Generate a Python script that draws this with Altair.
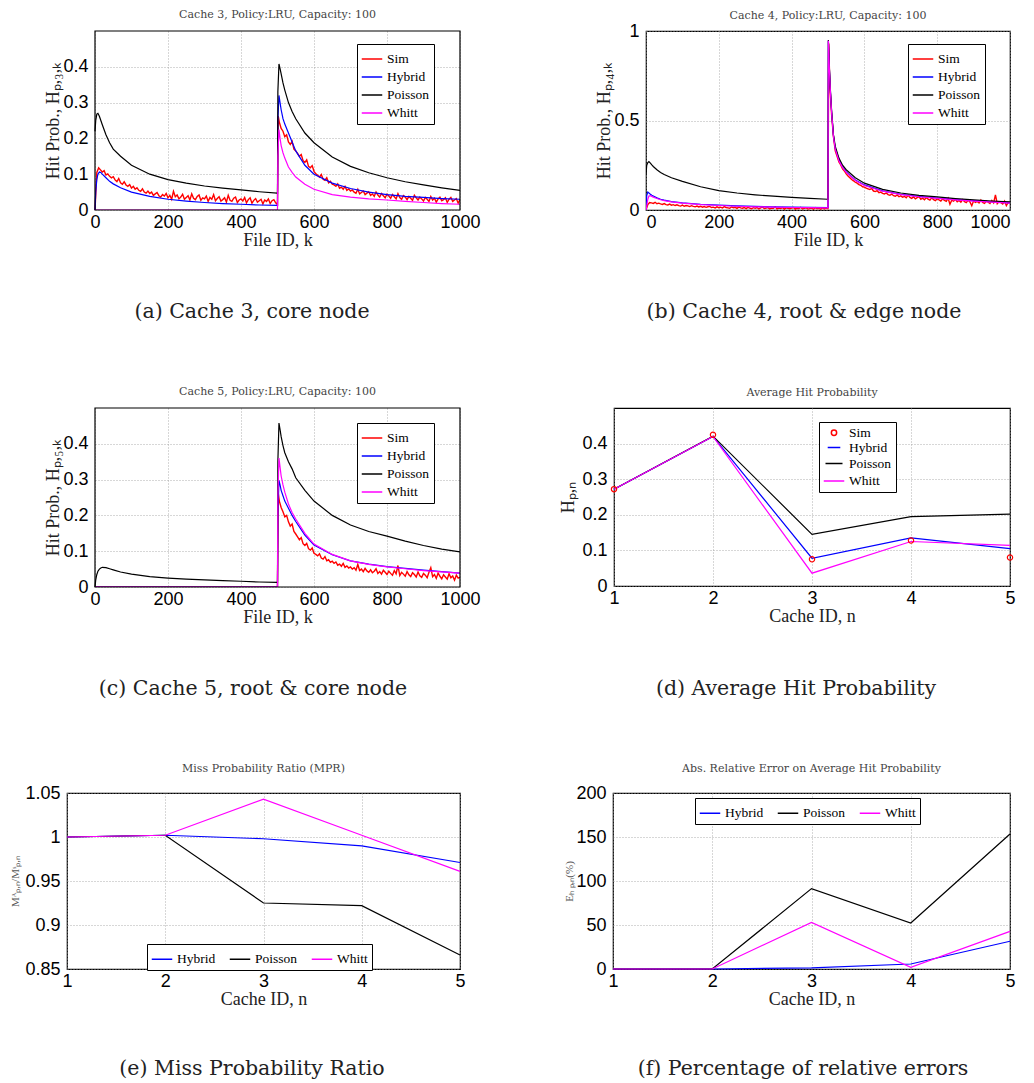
import altair as alt
import pandas as pd

SERIES = ["Sim", "Hybrid", "Poisson", "Whitt"]
SERIES_COLORS = ["#ff0000", "#0000ff", "#000000", "#ff00ff"]
MODELS = ["Hybrid", "Poisson", "Whitt"]
MODEL_COLORS = ["#0000ff", "#000000", "#ff00ff"]

# file-id positions
K_SMOOTH = [0, 2, 5, 8, 12, 16, 20, 30, 40, 50, 70, 100, 150, 200, 250, 300, 350, 400, 450, 499,
            500, 501, 504, 507, 510, 515, 520, 530, 540, 550, 575, 600, 650, 700, 750, 800, 850, 900, 950, 1000]
K_SIM_LO = list(range(0, 500, 5))
K_SIM_HI = [500, 502] + list(range(505, 1001, 5))
X_TICKS = [0, 200, 400, 600, 800, 1000]
Y_TICKS_HALF = [0, 0.1, 0.2, 0.3, 0.4]

# ---------------- Panel (a): cache 3 ----------------
a_sim_lo = [0.000, 0.105, 0.118, 0.112, 0.106, 0.110, 0.098, 0.101, 0.094, 0.090,
            0.093, 0.084, 0.079, 0.088, 0.076, 0.072, 0.079, 0.070, 0.066, 0.071,
            0.061, 0.066, 0.058, 0.062, 0.055, 0.052, 0.059, 0.050, 0.047, 0.053,
            0.046, 0.050, 0.041, 0.045, 0.049, 0.040, 0.036, 0.043, 0.039, 0.046,
            0.034, 0.041, 0.030, 0.052, 0.037, 0.042, 0.031, 0.036, 0.044, 0.030,
            0.035, 0.040, 0.028, 0.045, 0.033, 0.029, 0.038, 0.042, 0.027, 0.034,
            0.031, 0.039, 0.024, 0.035, 0.030, 0.043, 0.026, 0.032, 0.037, 0.025,
            0.029, 0.034, 0.022, 0.041, 0.027, 0.024, 0.033, 0.036, 0.021, 0.028,
            0.031, 0.025, 0.035, 0.020, 0.029, 0.034, 0.019, 0.027, 0.032, 0.022,
            0.026, 0.030, 0.017, 0.028, 0.024, 0.031, 0.018, 0.026, 0.029, 0.020]
a_sim_hi = [0.015, 0.262,
            0.245, 0.228, 0.220, 0.205, 0.210, 0.190, 0.183, 0.192, 0.170, 0.165,
            0.158, 0.150, 0.155, 0.138, 0.133, 0.140, 0.122, 0.118, 0.124, 0.108,
            0.101, 0.097, 0.092, 0.099, 0.086, 0.083, 0.090, 0.076, 0.080, 0.072,
            0.070, 0.066, 0.073, 0.061, 0.064, 0.058, 0.066, 0.055, 0.059, 0.053,
            0.056, 0.050, 0.047, 0.058, 0.045, 0.049, 0.053, 0.043, 0.047, 0.051,
            0.041, 0.045, 0.038, 0.050, 0.042, 0.036, 0.046, 0.040, 0.034, 0.044,
            0.039, 0.033, 0.043, 0.037, 0.031, 0.046, 0.035, 0.030, 0.040, 0.036,
            0.029, 0.038, 0.033, 0.027, 0.041, 0.034, 0.028, 0.036, 0.031, 0.025,
            0.035, 0.030, 0.024, 0.038, 0.028, 0.033, 0.022, 0.031, 0.036, 0.026,
            0.029, 0.034, 0.021, 0.030, 0.035, 0.024, 0.028, 0.032, 0.019, 0.030]
a_hybrid = [0.0, 0.05, 0.085, 0.1, 0.106, 0.105, 0.1, 0.09, 0.08, 0.073, 0.062, 0.05, 0.038, 0.03, 0.025, 0.021, 0.018, 0.016, 0.014, 0.013,
            0.013, 0.25, 0.32, 0.30, 0.28, 0.255, 0.24, 0.215, 0.19, 0.165, 0.125, 0.10, 0.075, 0.06, 0.05, 0.043, 0.038, 0.035, 0.032, 0.03]
a_poisson = [0.22, 0.25, 0.268, 0.27, 0.262, 0.25, 0.238, 0.21, 0.188, 0.17, 0.15, 0.125, 0.1, 0.085, 0.075, 0.067, 0.061, 0.056, 0.051, 0.047,
             0.047, 0.33, 0.408, 0.395, 0.38, 0.355, 0.335, 0.30, 0.275, 0.255, 0.215, 0.188, 0.148, 0.122, 0.104, 0.09, 0.079, 0.07, 0.062, 0.055]
a_whitt = [0.0, 0.0, 0.0, 0.0, 0.0, 0.0, 0.0, 0.0, 0.0, 0.0, 0.0, 0.0, 0.0, 0.0, 0.0, 0.0, 0.0, 0.0, 0.0, 0.0,
           0.0, 0.15, 0.225, 0.2, 0.18, 0.16, 0.145, 0.12, 0.105, 0.092, 0.072, 0.058, 0.043, 0.036, 0.031, 0.028, 0.024, 0.021, 0.018, 0.016]

# ---------------- Panel (b): cache 4 ----------------
b_sim_lo = [0.000, 0.030, 0.042, 0.040, 0.037, 0.043, 0.035, 0.038, 0.034, 0.031,
            0.036, 0.030, 0.028, 0.033, 0.027, 0.030, 0.025, 0.029, 0.024, 0.022,
            0.027, 0.021, 0.025, 0.023, 0.019, 0.024, 0.020, 0.018, 0.022, 0.017,
            0.021, 0.016, 0.019, 0.015, 0.018, 0.020, 0.014, 0.016, 0.012, 0.018,
            0.013, 0.016, 0.011, 0.019, 0.014, 0.012, 0.010, 0.017, 0.013, 0.015,
            0.009, 0.016, 0.012, 0.010, 0.014, 0.008, 0.015, 0.011, 0.007, 0.013,
            0.010, 0.014, 0.006, 0.012, 0.016, 0.008, 0.011, 0.013, 0.006, 0.010,
            0.009, 0.017, 0.006, 0.011, 0.008, 0.013, 0.005, 0.012, 0.009, 0.007,
            0.011, 0.014, 0.005, 0.010, 0.007, 0.015, 0.006, 0.009, 0.012, 0.005,
            0.008, 0.011, 0.004, 0.013, 0.007, 0.009, 0.005, 0.012, 0.006, 0.010]
b_sim_hi = [0.008, 0.930,
            0.700, 0.530, 0.410, 0.330, 0.300, 0.268, 0.252, 0.230, 0.218, 0.202,
            0.190, 0.180, 0.170, 0.163, 0.155, 0.150, 0.142, 0.138, 0.130, 0.128,
            0.122, 0.118, 0.114, 0.120, 0.106, 0.103, 0.108, 0.097, 0.100, 0.093,
            0.090, 0.095, 0.086, 0.082, 0.089, 0.080, 0.077, 0.084, 0.074, 0.079,
            0.071, 0.076, 0.068, 0.083, 0.070, 0.065, 0.074, 0.062, 0.069, 0.075,
            0.060, 0.066, 0.057, 0.070, 0.061, 0.055, 0.068, 0.058, 0.052, 0.063,
            0.056, 0.050, 0.062, 0.054, 0.048, 0.066, 0.032, 0.055, 0.049, 0.060,
            0.046, 0.053, 0.044, 0.058, 0.047, 0.041, 0.055, 0.045, 0.024, 0.051,
            0.043, 0.048, 0.039, 0.056, 0.042, 0.037, 0.050, 0.044, 0.036, 0.053,
            0.040, 0.085, 0.035, 0.047, 0.041, 0.034, 0.050, 0.024, 0.043, 0.038]
b_hybrid = [0.0, 0.08, 0.1, 0.095, 0.088, 0.082, 0.078, 0.068, 0.06, 0.055, 0.047, 0.04, 0.032, 0.027, 0.023, 0.02, 0.018, 0.016, 0.015, 0.014,
            0.014, 0.945, 0.78, 0.65, 0.545, 0.415, 0.345, 0.28, 0.24, 0.213, 0.168, 0.14, 0.107, 0.088, 0.076, 0.067, 0.059, 0.052, 0.046, 0.04]
b_poisson = [0.2, 0.25, 0.265, 0.27, 0.262, 0.252, 0.243, 0.225, 0.21, 0.198, 0.18, 0.16, 0.13, 0.108, 0.095, 0.085, 0.077, 0.07, 0.065, 0.06,
             0.06, 0.95, 0.785, 0.655, 0.55, 0.42, 0.355, 0.29, 0.25, 0.225, 0.18, 0.15, 0.115, 0.095, 0.082, 0.073, 0.064, 0.057, 0.05, 0.045]
b_whitt = [0.0, 0.02, 0.06, 0.078, 0.08, 0.076, 0.072, 0.064, 0.057, 0.052, 0.045, 0.038, 0.03, 0.025, 0.021, 0.018, 0.016, 0.014, 0.013, 0.012,
           0.012, 0.945, 0.775, 0.645, 0.54, 0.41, 0.34, 0.275, 0.237, 0.21, 0.165, 0.137, 0.105, 0.086, 0.074, 0.065, 0.057, 0.05, 0.044, 0.038]

# ---------------- Panel (c): cache 5 ----------------
c_sim_lo = [0.0] * 100
c_sim_hi = [0.000, 0.262,
            0.240, 0.222, 0.210, 0.196, 0.200, 0.182, 0.170, 0.176, 0.155, 0.148,
            0.140, 0.132, 0.138, 0.121, 0.116, 0.122, 0.107, 0.103, 0.109, 0.094,
            0.091, 0.087, 0.093, 0.081, 0.078, 0.085, 0.073, 0.076, 0.069, 0.072,
            0.066, 0.070, 0.061, 0.064, 0.058, 0.066, 0.055, 0.059, 0.053, 0.056,
            0.050, 0.054, 0.047, 0.063, 0.046, 0.050, 0.043, 0.052, 0.045, 0.041,
            0.048, 0.040, 0.044, 0.051, 0.038, 0.043, 0.036, 0.047, 0.041, 0.035,
            0.044, 0.038, 0.033, 0.046, 0.037, 0.060, 0.032, 0.041, 0.036, 0.030,
            0.043, 0.034, 0.029, 0.040, 0.035, 0.028, 0.042, 0.031, 0.027, 0.038,
            0.033, 0.026, 0.041, 0.054, 0.029, 0.035, 0.024, 0.039, 0.030, 0.023,
            0.034, 0.028, 0.022, 0.037, 0.026, 0.031, 0.019, 0.033, 0.025, 0.027]
c_hybrid = [0.0, 0.0, 0.0, 0.0, 0.0, 0.0, 0.0, 0.0, 0.0, 0.0, 0.0, 0.0, 0.0, 0.0, 0.0, 0.0, 0.0, 0.0, 0.0, 0.0,
            0.0, 0.2, 0.298, 0.285, 0.27, 0.255, 0.24, 0.22, 0.2, 0.183, 0.145, 0.117, 0.09, 0.073, 0.064, 0.057, 0.052, 0.047, 0.043, 0.039]
c_poisson = [0.0, 0.02, 0.035, 0.044, 0.05, 0.053, 0.055, 0.054, 0.051, 0.048, 0.042, 0.036, 0.029, 0.025, 0.022, 0.02, 0.018, 0.016, 0.014, 0.013,
             0.013, 0.35, 0.458, 0.44, 0.42, 0.395, 0.375, 0.35, 0.33, 0.305, 0.27, 0.24, 0.2, 0.173, 0.155, 0.142, 0.128, 0.116, 0.106, 0.098]
c_whitt = [0.0, 0.0, 0.0, 0.0, 0.0, 0.0, 0.0, 0.0, 0.0, 0.0, 0.0, 0.0, 0.0, 0.0, 0.0, 0.0, 0.0, 0.0, 0.0, 0.0,
           0.0, 0.25, 0.36, 0.335, 0.31, 0.285, 0.265, 0.232, 0.208, 0.19, 0.15, 0.12, 0.091, 0.073, 0.063, 0.056, 0.051, 0.046, 0.042, 0.039]

# ---------------- Panels (d)-(f): per-cache summaries ----------------
CACHE_IDS = [1, 2, 3, 4, 5]
d_sim = [0.272, 0.425, 0.075, 0.128, 0.080]
d_hybrid = [0.272, 0.420, 0.078, 0.135, 0.105]
d_poisson = [0.272, 0.421, 0.145, 0.195, 0.202]
d_whitt = [0.272, 0.420, 0.036, 0.125, 0.114]

e_hybrid = [1.000, 1.002, 0.998, 0.990, 0.971]
e_poisson = [1.000, 1.002, 0.925, 0.922, 0.866]
e_whitt = [1.000, 1.002, 1.043, 1.002, 0.961]

f_hybrid = [0.0, 0.0, 1.2, 5.7, 31.5]
f_poisson = [0.0, 0.0, 91.3, 52.3, 153.4]
f_whitt = [0.0, 0.0, 53.0, 2.0, 42.8]

SERIF = "Liberation Serif"
CAPTION_FONT = "DejaVu Serif"
TITLE_OFFSET = 10
FMT = ".4~g"
LEAD = 28  # blank strip left of the (a)/(c) frames, so that (e) can start further left


def frame(k, v, name):
    return pd.DataFrame({"k": k, "v": v, "series": name})


def legend(lx, ly, direction="vertical", columns=1):
    return alt.Legend(title=None, orient="none", legendX=lx, legendY=ly, direction=direction,
                      columns=columns, symbolType="stroke")


def panel_title(text, offset=TITLE_OFFSET, dx=0):
    return alt.TitleParams(text, offset=offset, frame="group", dx=dx)


def caption_layer(text, cx, cy):
    return alt.Chart(pd.DataFrame({"t": [text]})).mark_text(
        font=CAPTION_FONT, fontSize=20.5, color="#222", align="center", baseline="middle"
    ).encode(text="t:N", x=alt.value(cx), y=alt.value(cy))


def box_layer(x0, x1, h):
    # plot frame for panels whose view is wider than their data rectangle
    return alt.Chart(pd.DataFrame({"z": [0]})).mark_rect(
        fillOpacity=0, stroke="black", strokeWidth=1.2
    ).encode(x=alt.value(x0), x2=alt.value(x1), y=alt.value(0), y2=alt.value(h))


def left_guide(px):
    return alt.Chart(pd.DataFrame({"z": [0]})).mark_rule(strokeOpacity=0).encode(
        x=alt.value(px), y=alt.value(0), y2=alt.value(2))


def hit_panel(title, ytitle, caption, sim_lo, sim_hi, hyb, poi, whi, ymax, yticks,
              plot_w, height, lx, ly, cx, cy, lead=0, flush=False, title_offset=TITLE_OFFSET):
    width = plot_w + lead
    df = pd.concat([
        frame(K_SIM_LO + K_SIM_HI, sim_lo + sim_hi, "Sim"),
        frame(K_SMOOTH, hyb, "Hybrid"),
        frame(K_SMOOTH, poi, "Poisson"),
        frame(K_SMOOTH, whi, "Whitt"),
    ])
    base = alt.Chart(df).encode(
        x=alt.X("k:Q", scale=alt.Scale(domain=[0, 1000], nice=False, zero=False, range=[lead, width]),
                axis=alt.Axis(title="File ID, k", values=X_TICKS, format=FMT, titlePadding=0,
                              labelFlush=flush)),
        y=alt.Y("v:Q", scale=alt.Scale(domain=[0, ymax], nice=False),
                axis=alt.Axis(title=ytitle, values=yticks, format=FMT, titlePadding=0,
                              labelPadding=7 - lead)),
        color=alt.Color("series:N", scale=alt.Scale(domain=SERIES, range=SERIES_COLORS),
                        legend=legend(lx + lead, ly)),
    )
    layers = [base.transform_filter(alt.datum.series == s).mark_line(
        strokeWidth=1.4 if s == "Sim" else 1.2, clip=True) for s in SERIES]
    layers.append(caption_layer(caption, cx + lead, cy))
    props = dict(width=width, height=height, title=panel_title(title, title_offset, lead / 2))
    if lead:
        layers.append(box_layer(lead, width, height))
        props["view"] = alt.ViewBackground(stroke="transparent")
    return alt.layer(*layers).properties(**props)


panel_a = hit_panel("Cache 3, Policy:LRU, Capacity: 100", "Hit Prob., Hₚ,₃,ₖ", "(a) Cache 3, core node",
                    a_sim_lo, a_sim_hi, a_hybrid, a_poisson, a_whitt, 0.5, Y_TICKS_HALF,
                    365, 179, 262, 13, 157, 281, lead=LEAD)
panel_b = hit_panel("Cache 4, Policy:LRU, Capacity: 100", "Hit Prob., Hₚ,₄,ₖ", "(b) Cache 4, root & edge node",
                    b_sim_lo, b_sim_hi, b_hybrid, b_poisson, b_whitt, 1.0, [0, 0.5, 1],
                    364, 179, 262, 13, 158, 281, flush=True, title_offset=1)
panel_c = hit_panel("Cache 5, Policy:LRU, Capacity: 100", "Hit Prob., Hₚ,₅,ₖ", "(c) Cache 5, root & core node",
                    c_sim_lo, c_sim_hi, c_hybrid, c_poisson, c_whitt, 0.5, Y_TICKS_HALF,
                    365, 179, 262, 15, 158, 281, lead=LEAD)

# (d) average hit probability
d_df = pd.concat([frame(CACHE_IDS, d_sim, "Sim"), frame(CACHE_IDS, d_hybrid, "Hybrid"),
                  frame(CACHE_IDS, d_poisson, "Poisson"), frame(CACHE_IDS, d_whitt, "Whitt")])
x_cache = alt.X("k:Q", scale=alt.Scale(domain=[1, 5], nice=False, zero=False),
                axis=alt.Axis(title="Cache ID, n", values=CACHE_IDS, format=FMT, titlePadding=0))
d_legend = alt.Legend(title=None, orient="none", legendX=205, legendY=14)
d_color = alt.Color("series:N", scale=alt.Scale(domain=SERIES, range=SERIES_COLORS), legend=d_legend)
d_y = alt.Y("v:Q", scale=alt.Scale(domain=[0, 0.5], nice=False),
            axis=alt.Axis(title="Hₚ,ₙ", values=Y_TICKS_HALF, format=FMT, titlePadding=4))
d_base = alt.Chart(d_df).encode(x=x_cache, y=d_y, color=d_color)
d_layers = [d_base.transform_filter(alt.datum.series == s).mark_line(strokeWidth=1.2) for s in MODELS]
d_points = d_base.transform_filter(alt.datum.series == "Sim").mark_point(
    filled=False, strokeWidth=1.2, opacity=1).encode(
    shape=alt.Shape("series:N", scale=alt.Scale(domain=SERIES, range=["circle", "stroke", "stroke", "stroke"]),
                    legend=d_legend),
    size=alt.Size("series:N", scale=alt.Scale(domain=SERIES, range=[28, 420, 420, 420]), legend=d_legend),
)
panel_d = alt.layer(*d_layers, d_points, caption_layer("(d) Average Hit Probability", 182, 281)).properties(
    width=396, height=178, title=panel_title("Average Hit Probability"))

# (e) miss probability ratio
e_df = pd.concat([frame(CACHE_IDS, e_hybrid, "Hybrid"), frame(CACHE_IDS, e_poisson, "Poisson"),
                  frame(CACHE_IDS, e_whitt, "Whitt")])
e_base = alt.Chart(e_df).encode(
    x=x_cache,
    y=alt.Y("v:Q", scale=alt.Scale(domain=[0.85, 1.05], nice=False, zero=False),
            axis=alt.Axis(title="Mᴬₚ,ₙ/Mˢₚ,ₙ", values=[0.85, 0.9, 0.95, 1.0, 1.05], format=FMT,
                          titleFontSize=11, titleColor="#555", titlePadding=4)),
    color=alt.Color("series:N", scale=alt.Scale(domain=MODELS, range=MODEL_COLORS),
                    legend=legend(80, 151, "horizontal", 3)),
)
e_layers = [e_base.transform_filter(alt.datum.series == s).mark_line(strokeWidth=1.2) for s in MODELS]
panel_e = alt.layer(*e_layers, caption_layer("(e) Miss Probability Ratio", 185, 276),
                    left_guide(-58)).properties(
    width=393, height=176, title=panel_title("Miss Probability Ratio (MPR)"))

# (f) relative errors
f_df = pd.concat([frame(CACHE_IDS, f_hybrid, "Hybrid"), frame(CACHE_IDS, f_poisson, "Poisson"),
                  frame(CACHE_IDS, f_whitt, "Whitt")])
f_base = alt.Chart(f_df).encode(
    x=x_cache,
    y=alt.Y("v:Q", scale=alt.Scale(domain=[0, 200], nice=False),
            axis=alt.Axis(title="Eₕ ₚ,ₙ(%)", values=[0, 50, 100, 150, 200], format=FMT,
                          titleFontSize=11, titleColor="#555", titlePadding=1)),
    color=alt.Color("series:N", scale=alt.Scale(domain=MODELS, range=MODEL_COLORS),
                    legend=legend(82, 5, "horizontal", 3)),
)
f_layers = [f_base.transform_filter(alt.datum.series == s).mark_line(strokeWidth=1.2) for s in MODELS]
panel_f = alt.layer(*f_layers, caption_layer("(f) Percentage of relative errors", 190, 276)).properties(
    width=397, height=176, title=panel_title("Abs. Relative Error on Average Hit Probability"))


def indep(c):
    return c.resolve_scale(color="independent", shape="independent", size="independent")


row1 = indep(alt.hconcat(panel_a, panel_b, spacing=186, bounds="flush"))
row2 = indep(alt.hconcat(panel_c, panel_d, spacing=154, bounds="flush"))
row3 = indep(alt.hconcat(panel_e, panel_f, spacing=153, bounds="flush"))

chart = indep(alt.vconcat(row1, row2, row3, spacing=61)).properties(
    padding={"left": 0, "top": 0, "right": 0, "bottom": 0}
).configure_view(
    stroke="black", strokeWidth=1.2
).configure_axis(
    labelFont="Liberation Sans", labelFontSize=18, labelColor="#000",
    titleFont=SERIF, titleFontSize=18, titleFontWeight="normal", titleColor="#222",
    gridColor="#999", gridDash=[1, 2], gridWidth=0.8, domain=False, ticks=False,
    labelFlush=False
).configure_axisX(
    labelPadding=3
).configure_axisY(
    labelPadding=7
).configure_legend(
    labelFont=SERIF, labelFontSize=13.5, labelColor="#000", strokeColor="#000", fillColor="#fff",
    padding=4, symbolStrokeWidth=1.5, symbolSize=420, rowPadding=-3, labelOffset=4,
    columnPadding=10, cornerRadius=0
).configure_title(
    font="DejaVu Serif", fontSize=11, fontWeight="normal", color="#444"
)

chart.save("out.html", embed_options={"renderer": "svg", "actions": False})
